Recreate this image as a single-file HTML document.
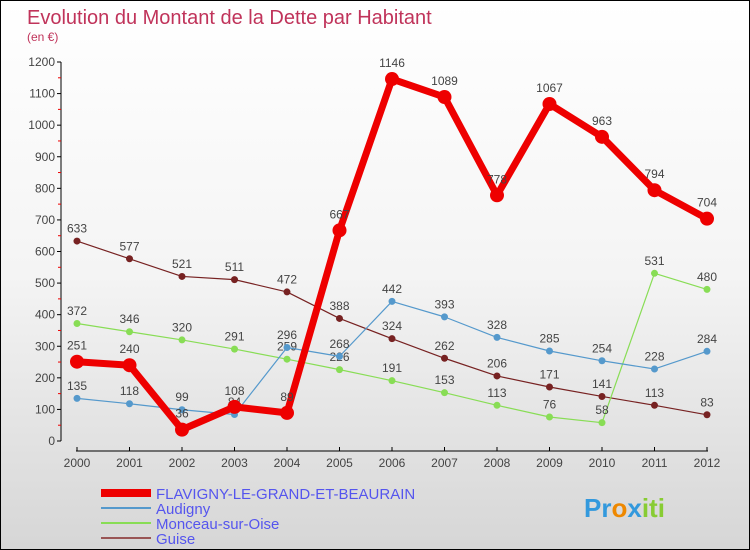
<!DOCTYPE html>
<html><head><meta charset="utf-8"><style>
body{margin:0}
#c{width:748px;height:548px;border:1px solid #000;background:linear-gradient(#fff 0%,#f4f4f4 50%,#d6d6d6 100%);position:relative;overflow:hidden;font-family:"Liberation Sans",sans-serif}
</style></head><body>
<div id="c">
<svg id="s" width="748" height="548">
<text x="26" y="23" font-size="20" fill="#c0335a">Evolution du Montant de la Dette par Habitant</text>
<text x="26" y="40" font-size="12" fill="#c0335a">(en €)</text>
<g id="ax"></g><g id="ser"></g>
<g font-size="15" fill="#5555ee">
<line x1="100" y1="492" x2="150" y2="492" stroke="#e00" stroke-width="8"/><text x="155" y="498">FLAVIGNY-LE-GRAND-ET-BEAURAIN</text>
<line x1="100" y1="507" x2="150" y2="507" stroke="#5599cc" stroke-width="2"/><text x="155" y="513">Audigny</text>
<line x1="100" y1="522" x2="150" y2="522" stroke="#88dd55" stroke-width="2"/><text x="155" y="528">Monceau-sur-Oise</text>
<line x1="100" y1="537" x2="150" y2="537" stroke="#995555" stroke-width="2"/><text x="155" y="543">Guise</text>
</g>
<text x="583" y="516" font-size="26" font-weight="bold"><tspan fill="#3399dd">Pr</tspan><tspan fill="#ee8800">o</tspan><tspan fill="#3399dd">x</tspan><tspan fill="#88cc33">iti</tspan></text>
</svg></div>
<script>
const years=[2000,2001,2002,2003,2004,2005,2006,2007,2008,2009,2010,2011,2012];
const yTicks=[0,100,200,300,400,500,600,700,800,900,1000,1100,1200];
const flavigny=[251,240,36,108,89,667,1146,1089,778,1067,963,794,704];
const audigny=[135,118,99,84,296,268,442,393,328,285,254,228,284];
const monceau=[372,346,320,291,259,226,191,153,113,76,58,531,480];
const guise=[633,577,521,511,472,388,324,262,206,171,141,113,83];
const X=i=>76+i*52.5, Y=v=>440-v*(379/1200);
const NS="http://www.w3.org/2000/svg";
function el(p,t,a){const e=document.createElementNS(NS,t);for(const k in a)e.setAttribute(k,a[k]);p.appendChild(e);return e;}
const ax=document.getElementById('ax');
el(ax,'line',{x1:60,y1:Y(1200),x2:60,y2:440,stroke:'#000'});
el(ax,'line',{x1:75,y1:450,x2:707,y2:450,stroke:'#000'});
yTicks.forEach(v=>{el(ax,'line',{x1:56,y1:Y(v),x2:60,y2:Y(v),stroke:'#000'});
 if(v<1200)el(ax,'line',{x1:57,y1:Y(v+50),x2:60,y2:Y(v+50),stroke:'#e00'});
 const t=el(ax,'text',{x:54,y:Y(v)+4,'font-size':12,fill:'#444','text-anchor':'end'});t.textContent=v;
 });
years.forEach((y,i)=>{el(ax,'line',{x1:X(i),y1:446,x2:X(i),y2:450,stroke:'#000'});
 const t=el(ax,'text',{x:X(i),y:466,'font-size':12,fill:'#444','text-anchor':'middle'});t.textContent=y;
 });
const ser=document.getElementById('ser');
function draw(data,col,w,r,name){const g=el(ser,'g',{});
 
 el(g,'polyline',{points:data.map((v,i)=>X(i)+','+Y(v)).join(' '),fill:'none',stroke:col,'stroke-width':w,'stroke-linejoin':'round'});
 data.forEach((v,i)=>{const c=el(g,'circle',{cx:X(i),cy:Y(v),r:r,fill:col});
  
  const t=el(g,'text',{x:X(i),y:Y(v)-(r+5),'font-size':12,fill:'#444','text-anchor':'middle'});t.textContent=v;});}
draw(guise,'#772222',1.2,3.5,'guise-series');
draw(monceau,'#88dd55',1.2,3.5,'monceau-series');
draw(audigny,'#5599cc',1.2,3.5,'audigny-series');
draw(flavigny,'#ee0000',7,7,'flavigny-series');
</script>
</body></html>
